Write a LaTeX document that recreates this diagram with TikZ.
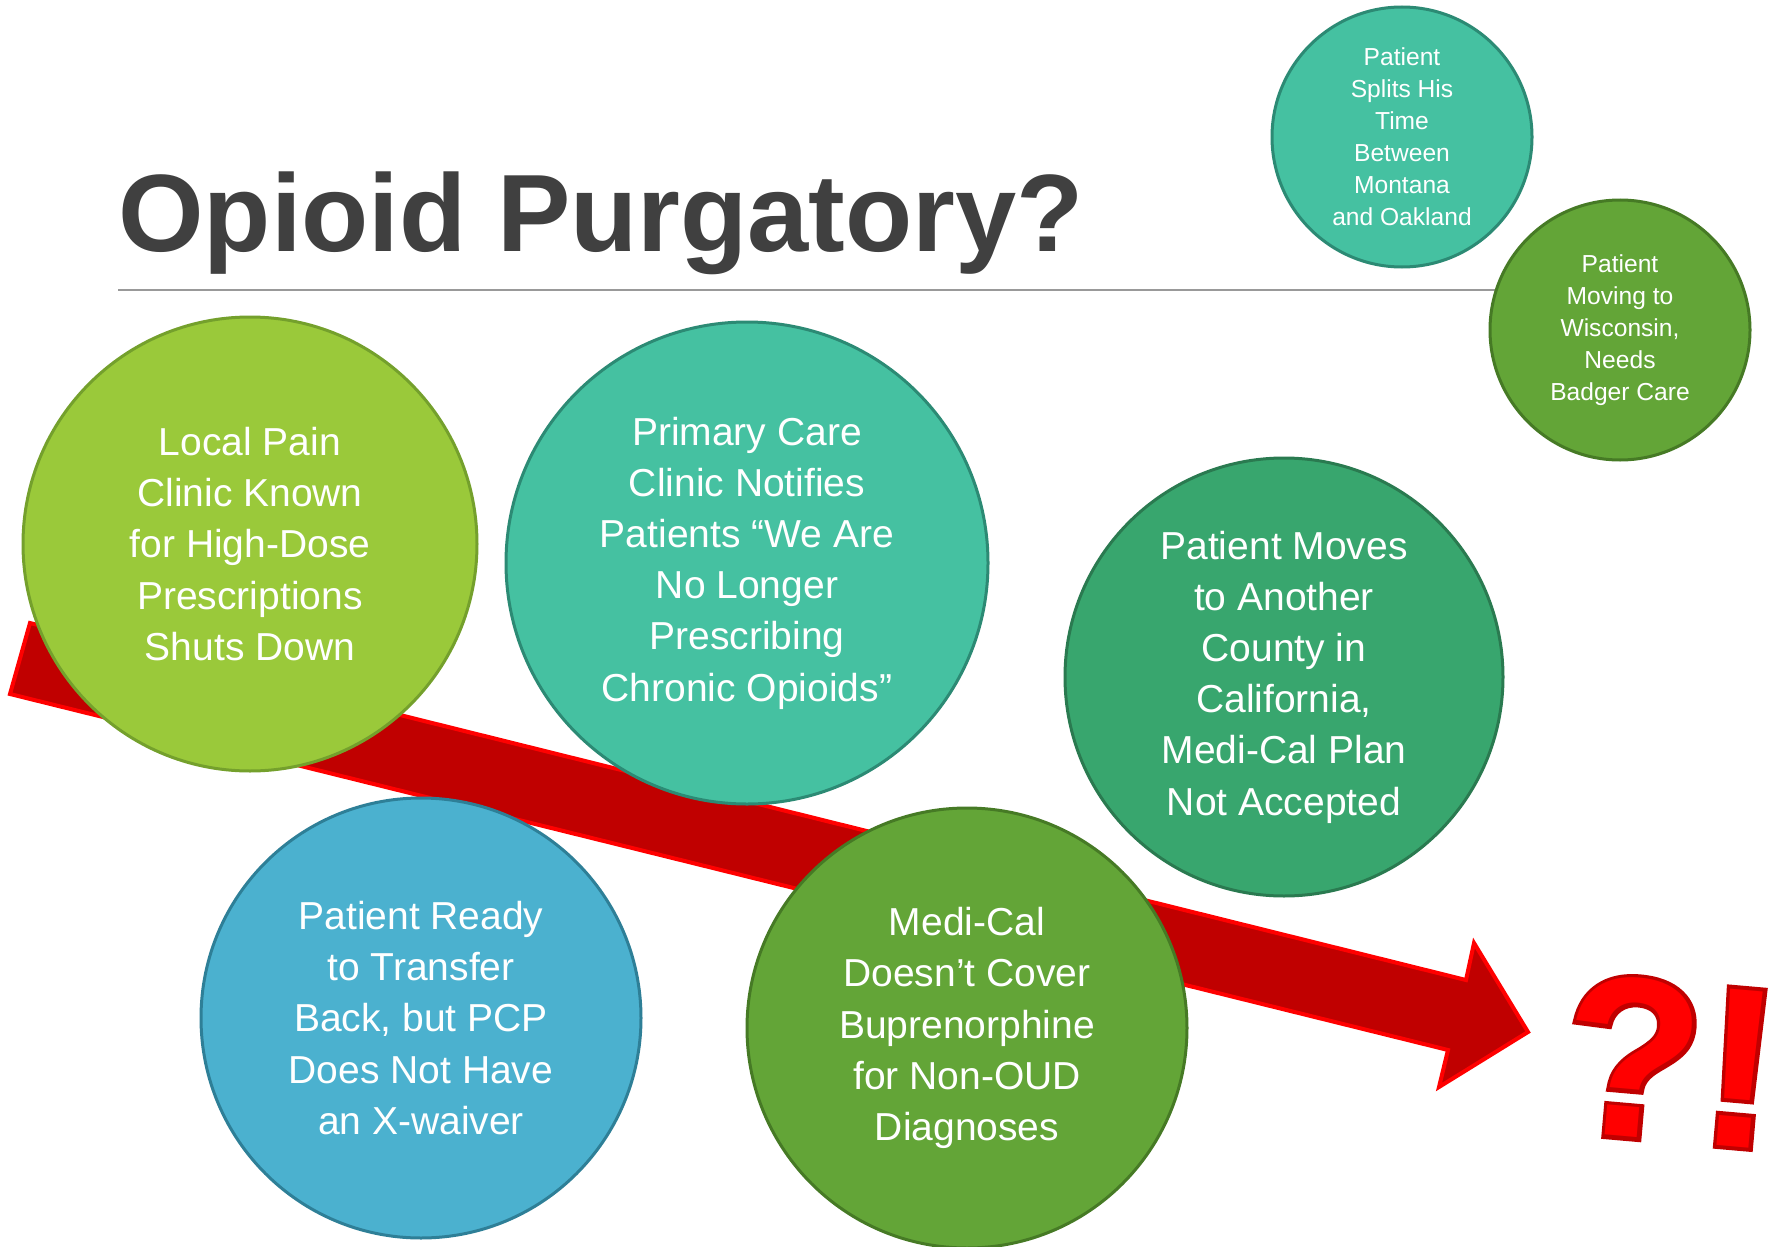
\documentclass[tikz,border=0pt]{standalone}
\usepackage{fontspec}
\setmainfont{Liberation Sans}
\newfontfamily\emboldfont[FakeBold=3.5]{Liberation Sans Bold}
\newfontfamily\plainboldfont{Liberation Sans Bold}
\definecolor{titlegray}{HTML}{404040}
\definecolor{lime}{HTML}{9AC93A}
\definecolor{limeb}{HTML}{74A02C}
\definecolor{teal}{HTML}{45C1A1}
\definecolor{tealb}{HTML}{2C8A74}
\definecolor{seagreen}{HTML}{38A66E}
\definecolor{seagreenb}{HTML}{2A7A50}
\definecolor{skyblue}{HTML}{4BB1CF}
\definecolor{skyblueb}{HTML}{2E7F97}
\definecolor{grassgreen}{HTML}{63A537}
\definecolor{grassgreenb}{HTML}{467A25}
\definecolor{arrowfill}{HTML}{C00000}
\definecolor{arrowline}{HTML}{FF0000}
\tikzset{
  bubble/.style={circle, inner sep=0pt, line width=1.5pt, text=white, align=center},
  bigtext/.style={font=\fontsize{19.5}{25.6}\selectfont},
  smalltext/.style={font=\fontsize{12.3}{16}\selectfont},
  bangmark/.style={rotate=-5, inner sep=0pt},
}
\begin{document}
\begin{tikzpicture}[x=0.5pt, y=-0.5pt]
\useasboundingbox[fill=white] (0,0) rectangle (1773,1247);
% title
\node[anchor=base west, inner sep=0pt, text=titlegray, font=\fontsize{55}{60}\selectfont\bfseries] (title) at (118,251) {Opioid Purgatory?};
\coordinate (ruleL) at (118,290);
\coordinate (ruleR) at (1498,290);
\draw[gray!80, line width=1pt] (ruleL) -- (ruleR);
% big arrow
\draw[fill=arrowfill, draw=arrowline, line width=2pt, line join=miter]
  (30,623) -- (1466,980) -- (1474,943) -- (1528,1032) -- (1439,1087) -- (1448,1050) -- (10,694) -- cycle;
% circles
\node[bubble, bigtext, fill=lime, draw=limeb, minimum size=227pt] (c1) at (250,544)
  {Local Pain\\Clinic Known\\for High-Dose\\Prescriptions\\Shuts Down};
\node[bubble, bigtext, fill=teal, draw=tealb, minimum size=241pt] (c2) at (747,563)
  {Primary Care\\Clinic Notifies\\Patients “We Are\\No Longer\\Prescribing\\Chronic Opioids”};
\node[bubble, bigtext, fill=seagreen, draw=seagreenb, minimum size=219pt] (c3) at (1284,677)
  {Patient Moves\\to Another\\County in\\California,\\Medi-Cal Plan\\Not Accepted};
\node[bubble, bigtext, fill=skyblue, draw=skyblueb, minimum size=220pt] (c4) at (421,1018)
  {Patient Ready\\to Transfer\\Back, but PCP\\Does Not Have\\an X-waiver};
\node[bubble, bigtext, fill=grassgreen, draw=grassgreenb, minimum size=220pt] (c5) at (967,1028)
  {Medi-Cal\\Doesn’t Cover\\Buprenorphine\\for Non-OUD\\Diagnoses};
\node[bubble, smalltext, fill=teal, draw=tealb, minimum size=130pt] (c6) at (1402,137)
  {Patient\\Splits His\\Time\\Between\\Montana\\and Oakland};
\node[bubble, smalltext, fill=grassgreen, draw=grassgreenb, minimum size=130pt] (c7) at (1620,330)
  {Patient\\Moving to\\Wisconsin,\\Needs\\Badger Care};
% ?!
\node[bangmark, text=arrowfill, font=\fontsize{114}{114}\selectfont\emboldfont] (qeback) at (1671,1061) {?!};
\node[bangmark, text=arrowline, font=\fontsize{114}{114}\selectfont\plainboldfont] (qe) at (qeback) {?!};
\end{tikzpicture}
\end{document}
